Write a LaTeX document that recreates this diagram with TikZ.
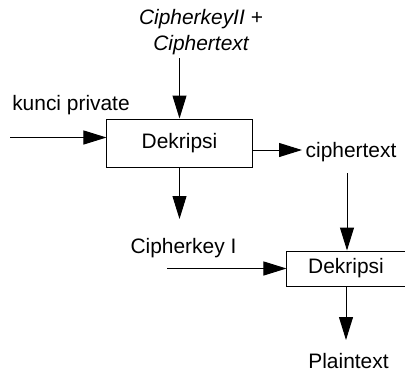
\documentclass[tikz,border=0pt]{standalone}
\usepackage{fontspec}
\setmainfont{Liberation Sans}
\usetikzlibrary{arrows.meta}
\begin{document}
\begin{tikzpicture}[x=1bp,y=-1bp,
  every node/.style={font=\fontsize{21}{26}\selectfont, inner sep=0pt},
  procbox/.style={draw, line width=1bp, minimum height=#1},
  flow/.style={line width=1bp, -{Triangle[length=23bp,width=14bp]}}]
  \useasboundingbox (0,0) rectangle (405,372);

  % processing blocks
  \node[procbox=48bp, minimum width=145bp] (dec1) at (179.5,143) {Dekripsi};
  \node[procbox=35bp, minimum width=118bp] (dec2) at (346,268.5) {Dekripsi};

  % labels
  \node[align=center, font=\fontsize{21}{26}\selectfont\itshape] (inp) at (201,32) {CipherkeyII +\\Ciphertext};
  \node (kp) at (71,105) {kunci private};
  \node (ct) at (351,152) {ciphertext};
  \node (ck) at (183.5,248) {Cipherkey I};
  \node (pt) at (348.5,361) {Plaintext};

  % free connector ends
  \coordinate (topin) at (179.5,58);
  \coordinate (kpin) at (10,137.5);
  \coordinate (ctout) at (302,150);
  \coordinate (ckout) at (179.5,219);
  \coordinate (ctin) at (347,173);
  \coordinate (ckin) at (167,268.5);
  \coordinate (ptout) at (346,340);

  % connectors
  \draw[flow] (topin) -- (dec1.north);
  \draw[flow] (kpin) -- (dec1.west |- kpin);
  \draw[flow] (dec1.east |- ctout) -- (ctout);
  \draw[flow] (dec1.south) -- (ckout);
  \draw[flow] (ctin) -- (ctin |- dec2.north);
  \draw[flow] (ckin) -- (dec2.west);
  \draw[flow] (dec2.south) -- (ptout);
\end{tikzpicture}
\end{document}
